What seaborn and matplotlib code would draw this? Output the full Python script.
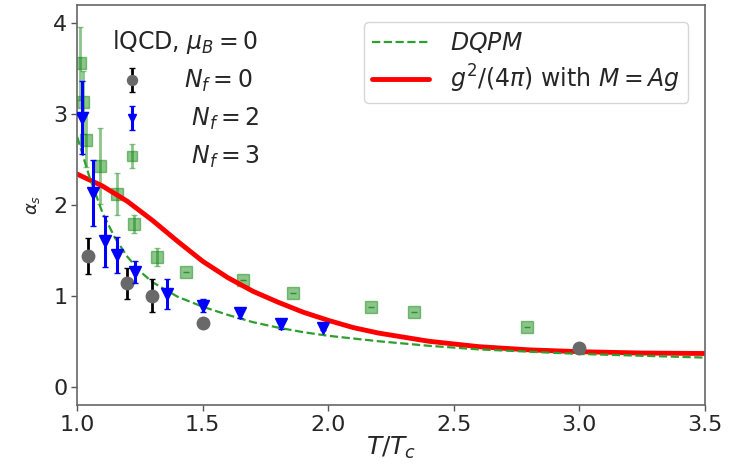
import matplotlib
matplotlib.use("Agg")
import matplotlib.pyplot as plt
import seaborn as sns
import pandas as pd

# ---- data ----
T_nf0 = [1.044, 1.20, 1.30, 1.50, 3.00]
a_nf0 = [1.44, 1.14, 1.00, 0.70, 0.43]
e_nf0 = [0.20, 0.17, 0.18, 0.0, 0.0]

T_nf2 = [1.02, 1.065, 1.11, 1.16, 1.23, 1.357, 1.50, 1.65, 1.81, 1.98]
a_nf2 = [2.96, 2.13, 1.60, 1.45, 1.26, 1.02, 0.89, 0.81, 0.69, 0.65]
e_nf2 = [0.40, 0.36, 0.28, 0.20, 0.12, 0.16, 0.07, 0.05, 0.05, 0.03]

T_nf3 = [1.012, 1.025, 1.036, 1.09, 1.16, 1.225, 1.317, 1.434, 1.66, 1.86, 2.17, 2.34, 2.79]
a_nf3 = [3.56, 3.13, 2.72, 2.43, 2.12, 1.79, 1.43, 1.26, 1.17, 1.03, 0.88, 0.82, 0.66]
e_nf3 = [0.40, 0.35, 0.30, 0.42, 0.23, 0.10, 0.10, 0.0, 0.0, 0.0, 0.0, 0.0, 0.0]

T_dqpm = [1.0, 1.05, 1.1, 1.15, 1.2, 1.25, 1.3, 1.4, 1.5, 1.6, 1.7, 1.8, 1.9, 2.0,
          2.2, 2.4, 2.6, 2.8, 3.0, 3.25, 3.5]
a_dqpm = [2.75, 2.30, 1.92, 1.64, 1.43, 1.27, 1.15, 0.99, 0.88, 0.79, 0.71, 0.65, 0.60, 0.56,
          0.50, 0.45, 0.41, 0.385, 0.36, 0.34, 0.32]

T_g = [1.0, 1.1, 1.2, 1.3, 1.4, 1.5, 1.6, 1.7, 1.8, 1.9, 2.0, 2.1, 2.2, 2.4, 2.6, 2.8,
       3.0, 3.25, 3.5]
a_g = [2.34, 2.21, 2.04, 1.83, 1.60, 1.38, 1.20, 1.05, 0.93, 0.82, 0.73, 0.65, 0.59, 0.50,
       0.44, 0.405, 0.385, 0.37, 0.365]

xticks = [1.0, 1.5, 2.0, 2.5, 3.0, 3.5]
yticks = [0, 1, 2, 3, 4]

sns.set_style("ticks")
plt.rcParams["font.family"] = ["DejaVu Sans"]
plt.rcParams["mathtext.fontset"] = "dejavusans"

fig = plt.figure(figsize=(7.35, 4.68), dpi=100)
ax = fig.add_axes([0.105, 0.135, 0.854, 0.854])

df_d = pd.DataFrame({"T": T_dqpm, "a": a_dqpm})
df_g = pd.DataFrame({"T": T_g, "a": a_g})
sns.lineplot(data=df_d, x="T", y="a", ax=ax, color="#2e9e2e", linestyle="--", lw=1.6,
             label="$DQPM$", zorder=3)
sns.lineplot(data=df_g, x="T", y="a", ax=ax, color="red", lw=3.5,
             label="$g^2/(4\\pi)$ with $M=Ag$", zorder=2)
line_handles, line_labels = ax.get_legend_handles_labels()
ax.get_legend().remove()

h0 = ax.errorbar(T_nf0, a_nf0, yerr=e_nf0, fmt="o", color="dimgray", ecolor="black",
                 ms=9, elinewidth=2, capsize=2, label="$N_f=0$", zorder=4)
h2 = ax.errorbar(T_nf2, a_nf2, yerr=e_nf2, fmt="v", color="blue", ecolor="blue",
                 ms=8, elinewidth=2.2, capsize=2, label=" $N_f=2$", zorder=5)
h3 = ax.errorbar(T_nf3, a_nf3, yerr=e_nf3, fmt="s", color="green", alpha=0.45,
                 ms=9, elinewidth=2, capsize=2, label=" $N_f=3$", zorder=1)

ax.set_xlim(1.0, 3.5)
ax.set_ylim(-0.2, 4.2)
ax.set_xticks(xticks)
ax.set_yticks(yticks)
ax.tick_params(labelsize=16, length=4, width=1, color="#555555", pad=3)
for s in ax.spines.values():
    s.set_color("#666666")
    s.set_linewidth(1.2)
ax.set_xlabel("$T/T_c$", fontsize=18, labelpad=0)
ax.set_ylabel("$\\alpha_s$", fontsize=13, labelpad=8)

leg1 = ax.legend([h0, h2, h3], ["$N_f=0$", " $N_f=2$", " $N_f=3$"],
                 title="lQCD, $\\mu_B=0$", loc="upper left", frameon=False,
                 fontsize=17, title_fontsize=17, bbox_to_anchor=(0.02, 0.995),
                 handletextpad=1.3, labelspacing=0.5, markerscale=0.8,
                 handlelength=1.8)
ax.add_artist(leg1)
ax.legend(line_handles, line_labels, loc="upper right", fontsize=17,
          frameon=True, handlelength=2.4, handletextpad=0.9,
          bbox_to_anchor=(0.985, 0.975), borderaxespad=0.3, labelspacing=0.3,
          borderpad=0.35)

fig.savefig("out.png", dpi=100)
